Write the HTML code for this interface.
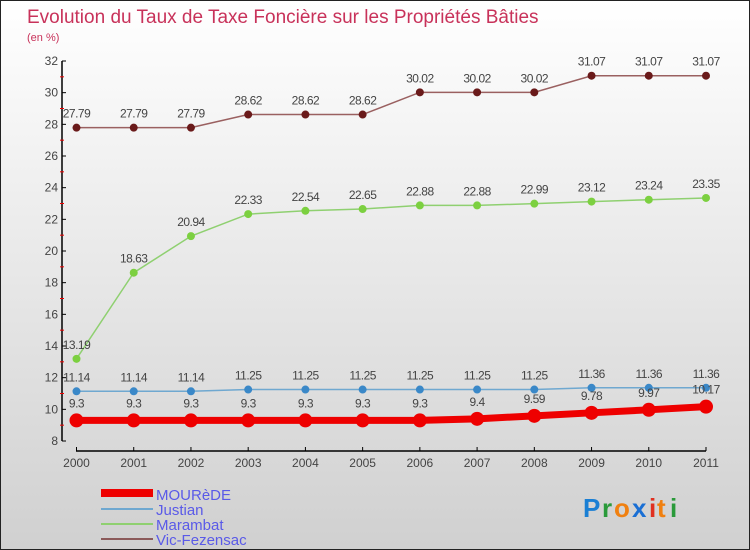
<!DOCTYPE html>
<html><head><meta charset="utf-8"><style>
body{margin:0}
#wrap{position:relative;width:750px;height:550px;box-sizing:border-box;border:1px solid #222;background:linear-gradient(#ffffff,#d0d0d0);font-family:"Liberation Sans",sans-serif;overflow:hidden}
</style></head><body>
<div id="wrap">
<svg id="svg" width="750" height="550" style="position:absolute;left:0;top:0">
<text x="26" y="22" font-size="19" fill="#c8325a">Evolution du Taux de Taxe Foncière sur les Propriétés Bâties</text>
<text x="26" y="40" font-size="11" fill="#c8325a">(en %)</text>
<g id="axes"></g><g id="series"></g>
<g>
<rect x="100" y="488" width="52" height="8" fill="#e00"/>
<text x="155" y="499" font-size="15" fill="#5a5ae8">MOURèDE</text>
<rect x="100" y="507" width="52" height="2" fill="#6fa8d0"/>
<text x="155" y="514" font-size="15" fill="#5a5ae8">Justian</text>
<rect x="100" y="522" width="52" height="2" fill="#8fd070"/>
<text x="155" y="529" font-size="15" fill="#5a5ae8">Marambat</text>
<rect x="100" y="537" width="52" height="2" fill="#8b5a5a"/>
<text x="155" y="544" font-size="15" fill="#5a5ae8">Vic-Fezensac</text>
</g>
<g font-size="26" font-weight="bold">
<text x="582" y="516" fill="#1a7fd4">P</text><text x="601" y="516" fill="#2a9a3a">r</text><text x="613" y="516" fill="#f08010">o</text><text x="631" y="516" fill="#1a6fd4">x</text><text x="648" y="516" fill="#e03020">i</text><text x="656" y="516" fill="#f08010">t</text><text x="669" y="516" fill="#2a9a3a">i</text>
</g>
</svg>
</div>
<script>
const years=["2000","2001","2002","2003","2004","2005","2006","2007","2008","2009","2010","2011"];
const yTicks=[8,10,12,14,16,18,20,22,24,26,28,30,32];
const mourede=[9.3,9.3,9.3,9.3,9.3,9.3,9.3,9.4,9.59,9.78,9.97,10.17];
const justian=[11.14,11.14,11.14,11.25,11.25,11.25,11.25,11.25,11.25,11.36,11.36,11.36];
const marambat=[13.19,18.63,20.94,22.33,22.54,22.65,22.88,22.88,22.99,23.12,23.24,23.35];
const vic=[27.79,27.79,27.79,28.62,28.62,28.62,30.02,30.02,30.02,31.07,31.07,31.07];
const NS="http://www.w3.org/2000/svg";
const X=i=>75.5+i*(705-75.5)/(years.length-1);
const Y=v=>440-(v-8)*(380/24);
function mk(t,a,p){const e=document.createElementNS(NS,t);for(const k in a)e.setAttribute(k,a[k]);p.appendChild(e);return e;}
const ax=document.getElementById('axes'),sr=document.getElementById('series');
mk('line',{x1:61,y1:60,x2:61,y2:440,stroke:'#000','stroke-width':1.5},ax);
mk('line',{x1:75,y1:450,x2:705,y2:450,stroke:'#000','stroke-width':1.5},ax);
yTicks.forEach(v=>{
 mk('line',{x1:61,y1:Y(v),x2:65,y2:Y(v),stroke:'#000'},ax);
 if(v<32) mk('line',{x1:59,y1:Y(v+1),x2:63,y2:Y(v+1),stroke:'#e00'},ax);
 const t=mk('text',{x:57,y:Y(v)+4,'font-size':12,'text-anchor':'end',fill:'#444'},ax);t.textContent=v;
 
 
});
years.forEach((y,i)=>{
 mk('line',{x1:X(i),y1:446,x2:X(i),y2:450,stroke:'#000'},ax);
 const t=mk('text',{x:X(i),y:466,'font-size':12,'text-anchor':'middle',fill:'#444'},ax);t.textContent=y;
 
 
});
function series(name,data,color,lw,r,dot){
 const g=mk('g',{},sr);
 
 
 const p=mk('polyline',{points:data.map((v,i)=>X(i)+','+Y(v)).join(' '),fill:'none',stroke:color,'stroke-width':lw},g);
 
 
 data.forEach((v,i)=>{
  const c=mk('circle',{cx:X(i),cy:Y(v),r:r,fill:dot},g);
  
  
  const t=mk('text',{x:X(i),y:Y(v)-(r+6),'font-size':12,'text-anchor':'middle',fill:'#444','letter-spacing':'-0.5'},g);
  t.textContent=String(v);
  
  
 });
}
series('vic-fezensac',vic,'#9a6060',1.5,4,'#6a1a1a');
series('marambat',marambat,'#8fd070',1.5,4,'#7cd040');
series('justian',justian,'#6fa8d0',1.5,4,'#3a88c8');
series('mourede',mourede,'#e00',7,7,'#e00');
</script>
</body></html>
